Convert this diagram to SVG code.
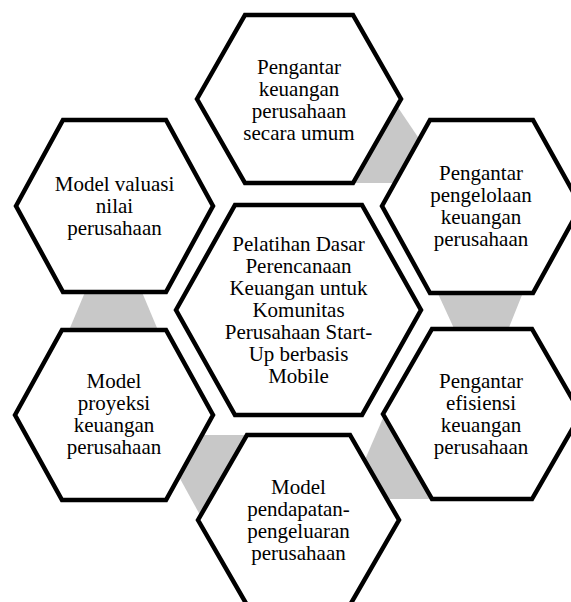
<svg xmlns="http://www.w3.org/2000/svg" width="571" height="602" viewBox="0 0 571 602">
<style>
.hex{fill:#ffffff;stroke:#000000;stroke-width:4.5;stroke-linejoin:miter}
.link{fill:#c8c8c8;stroke:none}
.t{font-family:"Liberation Serif","Times New Roman",serif;font-size:21px;fill:#000000;text-anchor:middle}
</style>
<rect width="571" height="602" fill="#ffffff"/>
<g id="connectors">
<polygon class="link" points="397,106 449,183 346,183 380,120"/>
<polygon class="link" points="434,285 526,285 506,335 457,335"/>
<polygon class="link" points="383,418 400,425 440,499 348,499"/>
<polygon class="link" points="156,435 262,435 200,515"/>
<polygon class="link" points="88,285 139,285 160,335 67,335"/>
</g>
<g id="node-top">
<polygon class="hex" points="197,99 245,15 353,15 401,99 353,183 245,183"/>
<text class="t" y="74"><tspan x="299">Pengantar</tspan><tspan x="299" dy="22">keuangan</tspan><tspan x="299" dy="22">perusahaan</tspan><tspan x="299" dy="22">secara umum</tspan></text>
</g>
<g id="node-right-top">
<polygon class="hex" points="382,206 430,120 533,120 581,206 533,293 430,293"/>
<text class="t" y="180"><tspan x="481">Pengantar</tspan><tspan x="481" dy="22">pengelolaan</tspan><tspan x="481" dy="22">keuangan</tspan><tspan x="481" dy="22">perusahaan</tspan></text>
</g>
<g id="node-right-bottom">
<polygon class="hex" points="383,414 432,329 532,329 581,414 532,499 432,499"/>
<text class="t" y="388"><tspan x="481">Pengantar</tspan><tspan x="481" dy="22">efisiensi</tspan><tspan x="481" dy="22">keuangan</tspan><tspan x="481" dy="22">perusahaan</tspan></text>
</g>
<g id="node-bottom">
<polygon class="hex" points="198,520 247,435 350,435 399,520 350,605 247,605"/>
<text class="t" y="494"><tspan x="298.5">Model</tspan><tspan x="298.5" dy="22">pendapatan-</tspan><tspan x="298.5" dy="22">pengeluaran</tspan><tspan x="298.5" dy="22">perusahaan</tspan></text>
</g>
<g id="node-left-bottom">
<polygon class="hex" points="15,415 62,330 166,330 213,415 166,500 62,500"/>
<text class="t" y="388"><tspan x="114">Model</tspan><tspan x="114" dy="22">proyeksi</tspan><tspan x="114" dy="22">keuangan</tspan><tspan x="114" dy="22">perusahaan</tspan></text>
</g>
<g id="node-left-top">
<polygon class="hex" points="16,206 63,120 166,120 213,206 166,292 63,292"/>
<text class="t" y="191"><tspan x="114.5">Model valuasi</tspan><tspan x="114.5" dy="22">nilai</tspan><tspan x="114.5" dy="22">perusahaan</tspan></text>
</g>
<g id="node-center">
<polygon class="hex" points="176,310 235,205 362,205 421,310 362,415 235,415"/>
<text class="t" y="251"><tspan x="298.5">Pelatihan Dasar</tspan><tspan x="298.5" dy="22">Perencanaan</tspan><tspan x="298.5" dy="22">Keuangan untuk</tspan><tspan x="298.5" dy="22">Komunitas</tspan><tspan x="298.5" dy="22">Perusahaan Start-</tspan><tspan x="298.5" dy="22">Up berbasis</tspan><tspan x="298.5" dy="22">Mobile</tspan></text>
</g>
</svg>
